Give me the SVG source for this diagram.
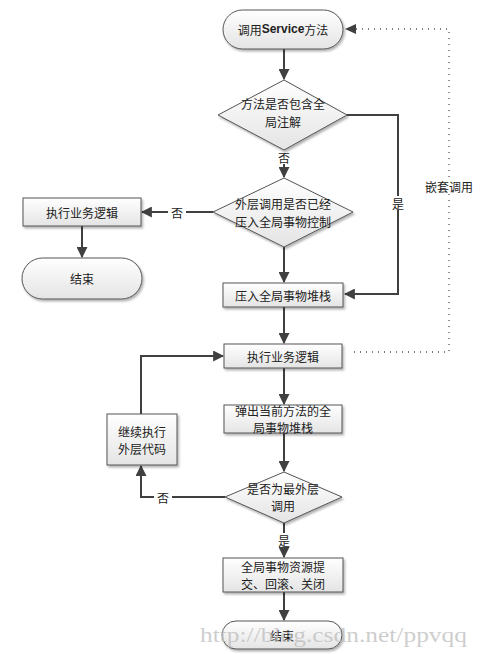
<svg xmlns="http://www.w3.org/2000/svg" width="480" height="654" viewBox="0 0 480 654">
<defs>
<linearGradient id="g" x1="0" y1="0" x2="0" y2="1">
<stop offset="0" stop-color="#ffffff"/>
<stop offset="1" stop-color="#e4e4e4"/>
</linearGradient>
<filter id="sh" x="-10%" y="-10%" width="130%" height="140%">
<feDropShadow dx="1.5" dy="2" stdDeviation="1" flood-color="#000" flood-opacity="0.3"/>
</filter>
<marker id="ah" viewBox="0 0 10 10" refX="9" refY="5" markerWidth="5.5" markerHeight="5.5" orient="auto" markerUnits="strokeWidth">
<path d="M0,0 L10,5 L0,10 z" fill="#404040"/>
</marker>
</defs>
<style>
.s{fill:url(#g);stroke:#555;stroke-width:1;filter:url(#sh)}
.t{font-family:"Noto Sans CJK SC","Liberation Sans",sans-serif;font-size:12px;fill:#222;text-anchor:middle;dominant-baseline:central}
.c{fill:none;stroke:#404040;stroke-width:2}
.d{fill:none;stroke:#555;stroke-width:1.3;stroke-dasharray:1 5}
.l{font-family:"Noto Sans CJK SC","Liberation Sans",sans-serif;font-size:12px;fill:#222;text-anchor:middle;dominant-baseline:central}
</style>
<rect width="480" height="654" fill="#fff"/>
<g id="connectors">
<path class="c" d="M284,49 V79" marker-end="url(#ah)"/>
<path class="c" d="M347,115 H398 V294 H345" marker-end="url(#ah)"/>
<path class="c" d="M284,150 V177" marker-end="url(#ah)"/>
<path class="c" d="M213,212 H142" marker-end="url(#ah)"/>
<path class="c" d="M82,226 V257" marker-end="url(#ah)"/>
<path class="c" d="M284,247 V282" marker-end="url(#ah)"/>
<path class="c" d="M284,307 V343" marker-end="url(#ah)"/>
<path class="c" d="M284,368 V404" marker-end="url(#ah)"/>
<path class="c" d="M284,433 V471" marker-end="url(#ah)"/>
<path class="c" d="M225,497 H141 V466" marker-end="url(#ah)"/>
<path class="c" d="M141,414 V356 H223" marker-end="url(#ah)"/>
<path class="c" d="M284,523 V557" marker-end="url(#ah)"/>
<path class="c" d="M284,592 V620" marker-end="url(#ah)"/>
<path class="d" d="M354,352 H449 V29 H356"/>
<path d="M345,29 L356,24 L356,34 z" fill="#404040"/>
<rect x="275" y="150" width="18" height="14" fill="#fff"/>
<text class="l" x="284" y="157">否</text>
<rect x="168" y="205" width="18" height="14" fill="#fff"/>
<text class="l" x="177" y="212">否</text>
<rect x="389" y="196" width="18" height="14" fill="#fff"/>
<text class="l" x="398" y="203">是</text>
<rect x="420" y="178" width="58" height="16" fill="#fff"/>
<text class="l" x="449" y="186">嵌套调用</text>
<rect x="154" y="490" width="18" height="14" fill="#fff"/>
<text class="l" x="163" y="497">否</text>
<rect x="275" y="533" width="18" height="14" fill="#fff"/>
<text class="l" x="284" y="540">是</text>
</g>
<g id="start">
<rect class="s" x="223" y="10" width="120" height="39" rx="19.5"/>
<text class="t" x="283" y="29">调用<tspan font-family="'Liberation Sans',sans-serif" font-weight="bold">Service</tspan>方法</text>
</g>
<g id="d1">
<polygon class="s" points="284,80 347,115 284,150 218,115"/>
<text class="t" x="283" y="103">方法是否包含全</text>
<text class="t" x="283" y="121">局注解</text>
</g>
<g id="d2">
<polygon class="s" points="284,178 353,212 284,247 213,212"/>
<text class="t" x="283" y="203">外层调用是否已经</text>
<text class="t" x="283" y="221">压入全局事物控制</text>
</g>
<g id="exec1">
<rect class="s" x="23" y="198" width="118" height="28"/>
<text class="t" x="82" y="212">执行业务逻辑</text>
</g>
<g id="end1">
<rect class="s" x="22" y="258" width="120" height="41" rx="20.5"/>
<text class="t" x="82" y="278">结束</text>
</g>
<g id="push">
<rect class="s" x="223" y="283" width="120" height="24"/>
<text class="t" x="283" y="295">压入全局事物堆栈</text>
</g>
<g id="exec2">
<rect class="s" x="224" y="344" width="118" height="24"/>
<text class="t" x="283" y="356">执行业务逻辑</text>
</g>
<g id="pop">
<rect class="s" x="224" y="405" width="118" height="28"/>
<text class="t" x="283" y="410">弹出当前方法的全</text>
<text class="t" x="283" y="427">局事物堆栈</text>
</g>
<g id="d3">
<polygon class="s" points="284,472 342,497 284,523 225,497"/>
<text class="t" x="283" y="488">是否为最外层</text>
<text class="t" x="283" y="505">调用</text>
</g>
<g id="cont">
<rect class="s" x="107" y="414" width="70" height="51"/>
<text class="t" x="142" y="431">继续执行</text>
<text class="t" x="142" y="448">外层代码</text>
</g>
<g id="commit">
<rect class="s" x="223" y="558" width="120" height="34"/>
<text class="t" x="283" y="566">全局事物资源提</text>
<text class="t" x="283" y="583">交、回滚、关闭</text>
</g>
<g id="end2">
<rect class="s" x="222" y="621" width="120" height="28" rx="14"/>
<text class="t" x="282" y="635">结束</text>
</g>
<text x="200" y="642" font-family="'Liberation Serif',serif" font-size="20" fill="#bdbdbd" fill-opacity="0.75" textLength="267" lengthAdjust="spacingAndGlyphs">http://blog.csdn.net/ppvqq</text>
</svg>
